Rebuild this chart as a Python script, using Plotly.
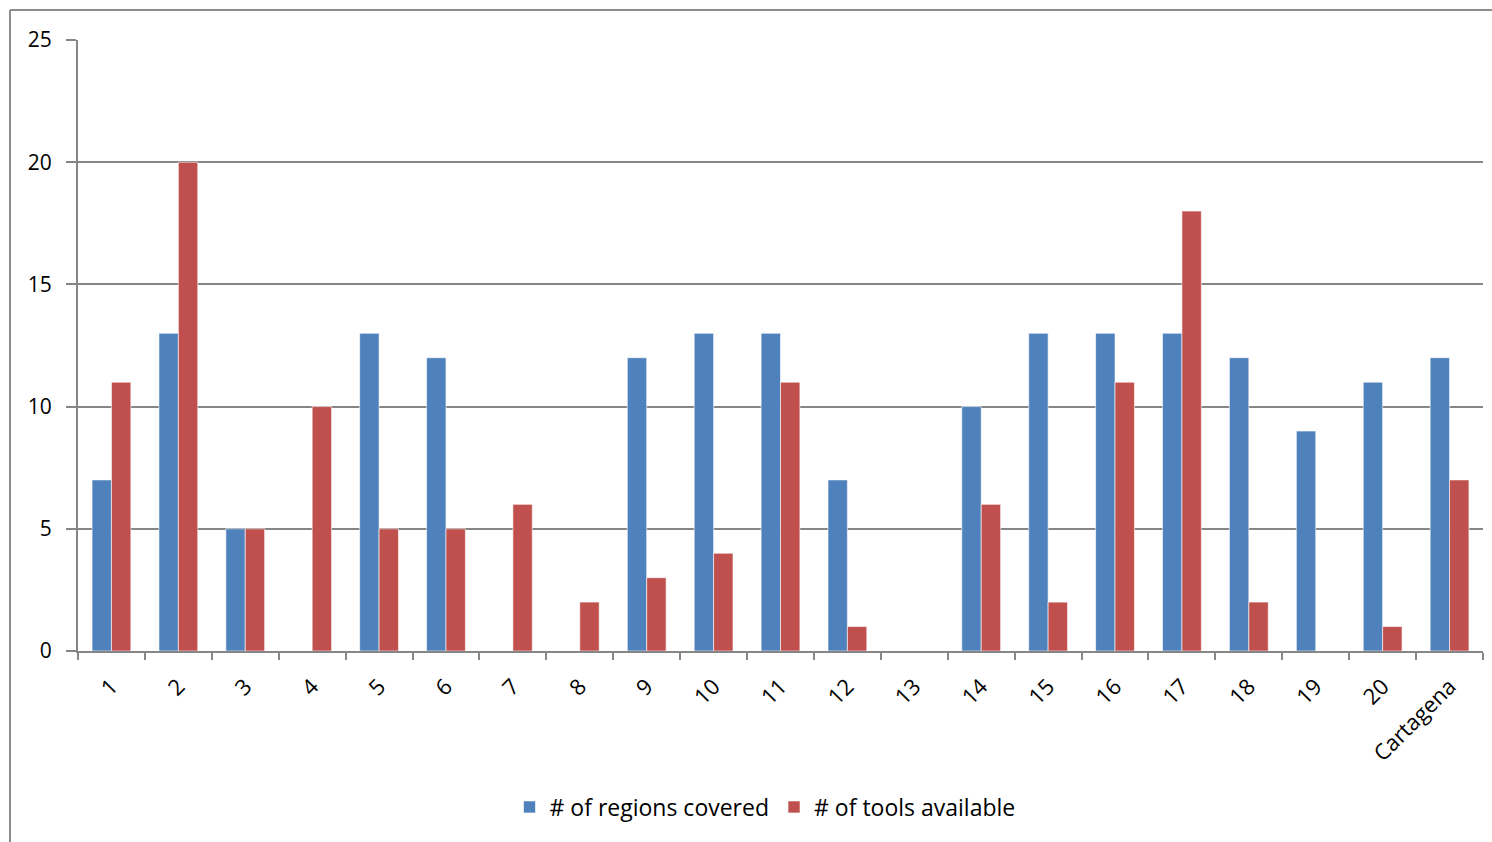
import plotly.graph_objects as go

categories = ["1", "2", "3", "4", "5", "6", "7", "8", "9", "10", "11", "12", "13",
              "14", "15", "16", "17", "18", "19", "20", "Cartagena"]
regions_covered = [7, 13, 5, 0, 13, 12, 0, 0, 12, 13, 13, 7, 0, 10, 13, 13, 13, 12, 9, 11, 12]
tools_available = [11, 20, 5, 10, 5, 5, 6, 2, 3, 4, 11, 1, 0, 6, 2, 11, 18, 2, 0, 1, 7]
y_ticks = [0, 5, 10, 15, 20, 25]

W, H = 1492, 842
L, R, T, B = 78, 9, 40, 191
pw, ph = W - L - R, H - T - B

def px(x):
    return (x - L) / pw

def py(y):
    return (H - B - y) / ph

fig = go.Figure()
fig.add_trace(go.Bar(x=categories, y=regions_covered, name="# of regions covered",
                     marker=dict(color="#4F81BD", line=dict(color="rgba(255,255,255,0.6)", width=1))))
fig.add_trace(go.Bar(x=categories, y=tools_available, name="# of tools available",
                     marker=dict(color="#C0504D", line=dict(color="rgba(255,255,255,0.6)", width=1))))

font_family = "Open Sans, Liberation Sans, sans-serif"
fig.update_layout(
    width=W, height=H,
    margin=dict(l=L, r=R, t=T, b=B),
    paper_bgcolor="white", plot_bgcolor="white",
    barmode="group", bargap=0.42, bargroupgap=0,
    font=dict(family=font_family, size=20, color="black"),
    showlegend=True,
    legend=dict(orientation="h", x=px(765), y=py(807), xanchor="center", yanchor="middle",
                font=dict(size=23), itemwidth=30, traceorder="normal"),
    xaxis=dict(type="category", tickangle=-45, showline=True, linecolor="#868686", linewidth=2,
               ticks="outside", tickson="boundaries", ticklen=7, tickcolor="#868686", tickwidth=2,
               showgrid=False, tickfont=dict(size=22), ticklabelstandoff=12),
    yaxis=dict(range=[0, 25], tickvals=y_ticks, showline=True, linecolor="#868686", linewidth=2,
               ticks="outside", ticklen=10, tickcolor="#868686", tickwidth=2,
               showgrid=True, gridcolor="#868686", gridwidth=1.5, zeroline=False,
               tickfont=dict(size=21), ticklabelstandoff=10),
    shapes=[
        dict(type="line", xref="paper", yref="paper", x0=px(10), x1=px(10), y0=py(10), y1=py(H),
             line=dict(color="#8C8C8C", width=2)),
        dict(type="line", xref="paper", yref="paper", x0=px(10), x1=px(W), y0=py(10), y1=py(10),
             line=dict(color="#8C8C8C", width=2)),
    ],
)
fig.write_html("out.html")
